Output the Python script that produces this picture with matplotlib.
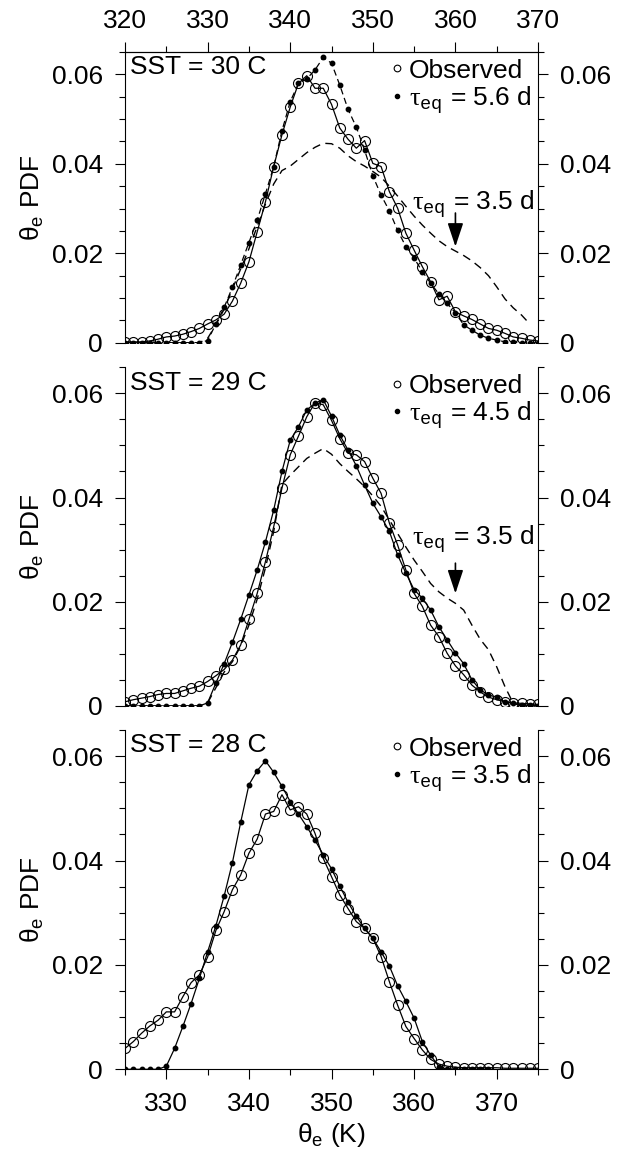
import numpy as np
import matplotlib
matplotlib.use('Agg')
import matplotlib.pyplot as plt
from matplotlib.lines import Line2D
from matplotlib.ticker import MultipleLocator, FixedLocator, FuncFormatter

nan = np.nan
theta = np.arange(325, 376)

# SST = 30 C
obs30 = [0.0002, 0.0002, 0.0002, 0.0004, 0.0008, 0.0013, 0.0015, 0.0019, 0.0025, 0.0032,
         0.0042, 0.0051, 0.0064, 0.0093, 0.0133, 0.0181, 0.0248, 0.0315, 0.0394, 0.0465,
         0.0527, 0.0580, 0.0597, 0.0569, 0.0569, 0.0533, 0.0480, 0.0455, 0.0435, 0.0452,
         0.0401, 0.0394, 0.0338, 0.0301, 0.0245, 0.0207, 0.0170, 0.0136, 0.0096, 0.0104,
         0.0069, 0.0060, 0.0052, 0.0042, 0.0032, 0.0028, 0.0021, 0.0013, 0.0010, 0.0006, 0.0004]
mod30 = [0, 0, 0, 0, 0, 0, 0, 0, 0, 0,
         0.0005, 0.0042, 0.0079, 0.0124, 0.0174, 0.0224, 0.0274, 0.0333, 0.0394, 0.0474,
         0.0539, 0.0580, 0.0590, 0.0610, 0.0638, 0.0625, 0.0576, 0.0522, 0.0482, 0.0431,
         0.0373, 0.0330, 0.0295, 0.0251, 0.0215, 0.0189, 0.0159, 0.0133, 0.0109, 0.0088,
         0.0067, 0.0040, 0.0028, 0.0017, 0.0010, 0.0006, 0.0002, 0.0001, 0, 0, 0]
ref30 = [0, 0, 0, 0, 0, 0, 0, 0, 0, 0,
         0.0010, 0.0040, 0.0075, 0.0120, 0.0165, 0.0210, 0.0260, 0.0310, 0.0355, 0.0385,
         0.0395, 0.0410, 0.0425, 0.0437, 0.0446, 0.0445, 0.0435, 0.0418, 0.0405, 0.0395,
         0.0383, 0.0370, 0.0350, 0.0328, 0.0305, 0.0283, 0.0263, 0.0245, 0.0228, 0.0215,
         0.0205, 0.0195, 0.0183, 0.0168, 0.0150, 0.0125, 0.0098, 0.0078, 0.0062, 0.0042, nan]

# SST = 29 C
obs29 = [0.0008, 0.0012, 0.0015, 0.0018, 0.0022, 0.0024, 0.0024, 0.0029, 0.0034, 0.0038,
         0.0047, 0.0058, 0.0070, 0.0088, 0.0117, 0.0166, 0.0216, 0.0277, 0.0344, 0.0418,
         0.0482, 0.0518, 0.0555, 0.0582, 0.0578, 0.0548, 0.0513, 0.0485, 0.0482, 0.0469,
         0.0437, 0.0408, 0.0351, 0.0309, 0.0261, 0.0216, 0.0191, 0.0155, 0.0133, 0.0101,
         0.0077, 0.0060, 0.0040, 0.0027, 0.0017, 0.0012, 0.0008, 0.0006, 0.0005, 0.0004, 0.0003]
mod29 = [0, 0, 0, 0, 0, 0, 0, 0, 0, 0,
         0.0006, 0.0044, 0.0081, 0.0122, 0.0166, 0.0213, 0.0261, 0.0315, 0.0376, 0.0450,
         0.0510, 0.0536, 0.0568, 0.0581, 0.0588, 0.0556, 0.0520, 0.0491, 0.0461, 0.0424,
         0.0389, 0.0363, 0.0335, 0.0290, 0.0255, 0.0223, 0.0207, 0.0184, 0.0152, 0.0127,
         0.0102, 0.0081, 0.0050, 0.0031, 0.0021, 0.0017, 0.0008, 0.0005, 0.0002, 0.0001, 0]
ref29 = [0, 0, 0, 0, 0, 0, 0, 0, 0, 0,
         0.0006, 0.0035, 0.0065, 0.0085, 0.0115, 0.0155, 0.0205, 0.0265, 0.0335, 0.0425,
         0.0443, 0.0459, 0.0475, 0.0485, 0.0494, 0.0483, 0.0465, 0.0450, 0.0436, 0.0421,
         0.0403, 0.0383, 0.0357, 0.0331, 0.0305, 0.0280, 0.0258, 0.0235, 0.0219, 0.0207,
         0.0197, 0.0184, 0.0155, 0.0128, 0.0108, 0.0075, 0.0037, 0.0005, 0, 0, 0]

# SST = 28 C
obs28 = [0.0040, 0.0053, 0.0069, 0.0083, 0.0094, 0.0110, 0.0110, 0.0139, 0.0166, 0.0181,
         0.0215, 0.0266, 0.0302, 0.0344, 0.0372, 0.0414, 0.0441, 0.0489, 0.0494, 0.0526,
         0.0497, 0.0503, 0.0489, 0.0452, 0.0404, 0.0369, 0.0334, 0.0308, 0.0283, 0.0270,
         0.0251, 0.0216, 0.0168, 0.0123, 0.0082, 0.0059, 0.0037, 0.0019, 0.0010, 0.0006,
         0.0004, 0.0003, 0.0003, 0.0003, 0.0003, 0.0003, 0.0002, 0.0002, 0.0002, 0.0002, 0.0002]
mod28 = [0, 0, 0, 0, 0, 0.0006, 0.0040, 0.0082, 0.0126, 0.0174,
         0.0225, 0.0275, 0.0332, 0.0396, 0.0473, 0.0545, 0.0572, 0.0591, 0.0569, 0.0542,
         0.0513, 0.0489, 0.0465, 0.0439, 0.0411, 0.0384, 0.0351, 0.0320, 0.0293, 0.0270,
         0.0251, 0.0225, 0.0198, 0.0160, 0.0130, 0.0098, 0.0053, 0.0027, 0.0005, 0,
         0, 0, 0, 0, 0, nan, nan, nan, nan, nan, nan]

sst_labels = ['SST = 30 C', 'SST = 29 C', 'SST = 28 C']
tau_labels = ['5.6', '4.5', '3.5']
top_ticks = [320, 330, 340, 350, 360, 370]

plt.rcParams['font.family'] = ['Liberation Sans', 'DejaVu Sans']
plt.rcParams['font.size'] = 19
plt.rcParams['mathtext.fontset'] = 'custom'
plt.rcParams['mathtext.rm'] = 'Liberation Sans'
plt.rcParams['mathtext.tt'] = 'Liberation Mono'
plt.rcParams['mathtext.sf'] = 'Liberation Serif'
plt.rcParams['mathtext.default'] = 'regular'
plt.rcParams['axes.linewidth'] = 0.8


def tau(val):
    return r'$\mathsf{τ}_{\mathtt{eq}}$ = ' + val + ' d'


def style_panel(ax):
    ax.set_xlim(325, 375)
    ax.set_ylim(0, 0.065)
    ax.yaxis.set_major_locator(FixedLocator([0, 0.02, 0.04, 0.06]))
    ax.yaxis.set_minor_locator(FixedLocator(np.arange(0, 0.0651, 0.005)))
    ax.yaxis.set_major_formatter(FuncFormatter(lambda v, p: '0' if abs(v) < 1e-9 else f'{v:.2f}'))
    ax.tick_params(axis='y', which='both', direction='out', left=True, right=True,
                   labelleft=True, labelright=True)
    ax.tick_params(axis='both', which='major', length=7, width=0.8, pad=9)
    ax.tick_params(axis='both', which='minor', length=4, width=0.8)
    ax.xaxis.set_major_locator(MultipleLocator(10))
    ax.xaxis.set_minor_locator(MultipleLocator(5))
    ax.set_ylabel(r'$θ_e$ PDF', labelpad=4)


fig = plt.figure(figsize=(6.22, 11.56), dpi=100)
ax1 = fig.add_axes([0.201, 0.7035, 0.664, 0.2515])
ax2 = fig.add_axes([0.201, 0.3893, 0.664, 0.2930])
ax3 = fig.add_axes([0.201, 0.0750, 0.664, 0.2935])

circ = dict(marker='o', ms=7.2, mfc='none', mec='k', mew=0.8, color='k', lw=0.9)
dot = dict(marker='o', ms=3.2, mfc='k', mec='k', color='k', lw=0.9)
dash = dict(color='k', lw=1.0, dashes=(6, 4))

# top panel
ax1.plot(theta, ref30, **dash)
ax1.plot(theta, mod30, ls='--', dashes=(5, 3), **dot)
ax1.plot(theta, obs30, **circ)
# middle panel
ax2.plot(theta, ref29, **dash)
ax2.plot(theta, mod29, **dot)
ax2.plot(theta, obs29, **circ)
# bottom panel
ax3.plot(theta, mod28, **dot)
ax3.plot(theta, obs28, **circ)

for ax, sst, tv in zip([ax1, ax2, ax3], sst_labels, tau_labels):
    style_panel(ax)
    ax.text(0.012, 0.99, sst, transform=ax.transAxes, ha='left', va='top')
    handles = [Line2D([], [], ls='none', marker='o', ms=4.8, mfc='none', mec='k', mew=0.8),
               Line2D([], [], ls='none', marker='o', ms=3.0, mfc='k', mec='k')]
    ax.legend(handles, ['Observed', tau(tv)], loc='upper right', frameon=False,
              handlelength=0.4, handletextpad=0.25, labelspacing=0.05,
              borderpad=0.1, borderaxespad=0.15)

# 3.5 d annotations in top two panels
for ax, ytxt, ytop, ytip in [(ax1, 0.0297, 0.029, 0.0215), (ax2, 0.0309, 0.0274, 0.0216)]:
    ax.text(374.6, ytxt, tau('3.5'), ha='right', va='baseline')
    ax.annotate('', xy=(365, ytip), xytext=(365, ytop),
                arrowprops=dict(arrowstyle='-|>,head_length=1.2,head_width=0.4',
                                mutation_scale=12, color='k', lw=1.2, shrinkA=0, shrinkB=0))

# x axes
ax1.tick_params(axis='x', which='both', bottom=False, labelbottom=False)
ax1.spines['bottom'].set_visible(False)
secax = ax1.secondary_xaxis('top', functions=(lambda x: x - 5, lambda x: x + 5))
secax.xaxis.set_major_locator(FixedLocator(top_ticks))
secax.xaxis.set_minor_locator(FixedLocator([325, 335, 345, 355, 365]))
secax.tick_params(axis='x', which='major', direction='out', length=7, width=0.8, pad=7)
secax.tick_params(axis='x', which='minor', direction='out', length=4, width=0.8)
secax.spines['top'].set_linewidth(0.8)

ax2.tick_params(axis='x', which='both', bottom=False, labelbottom=False)
ax2.spines['top'].set_visible(False)
ax2.spines['bottom'].set_visible(False)

ax3.spines['top'].set_visible(False)
ax3.tick_params(axis='x', which='both', direction='out', top=False)
ax3.set_xlabel(r'$θ_e$ (K)', labelpad=4)

fig.savefig('out.png', dpi=100)
